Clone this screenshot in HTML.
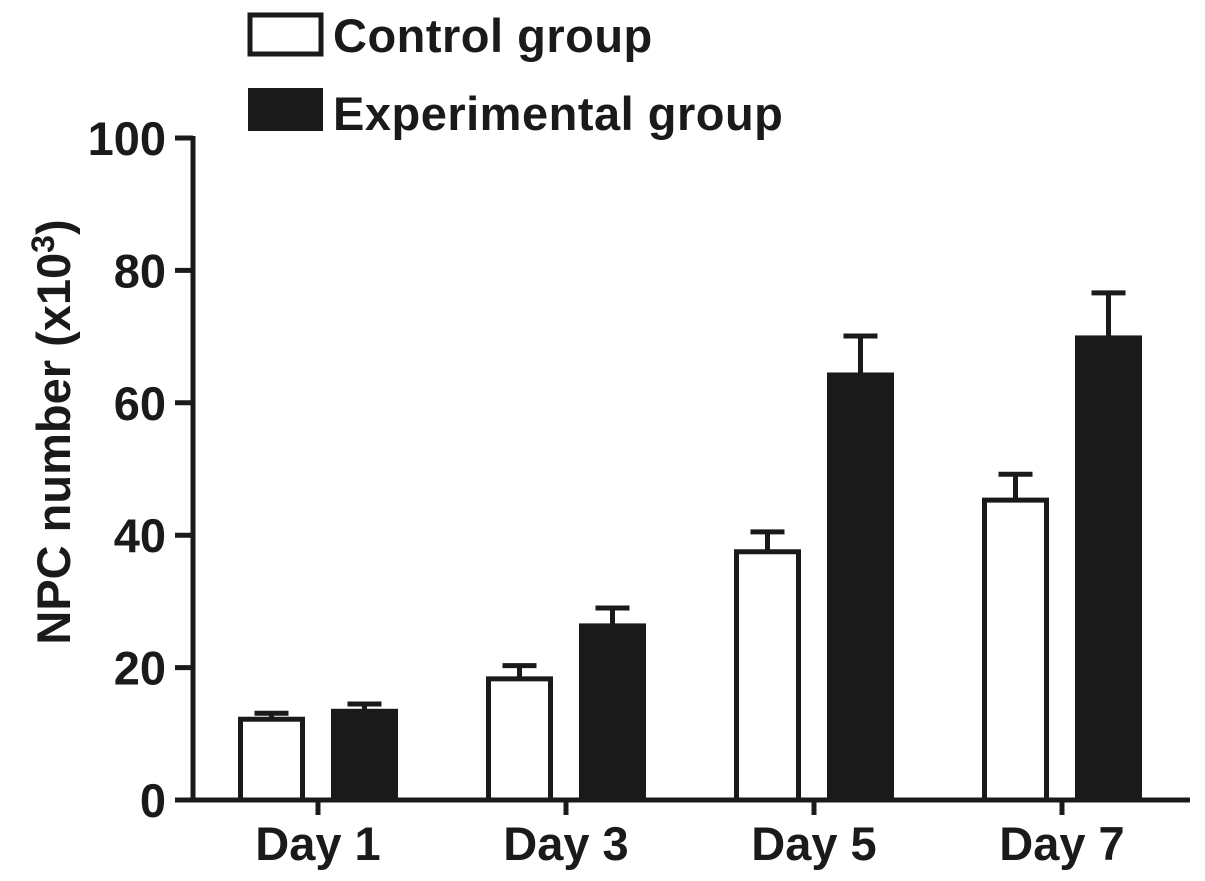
<!DOCTYPE html>
<html><head><meta charset="utf-8"><style>
html,body{margin:0;padding:0;background:#fff}
svg{display:block}
text{font-family:"Liberation Sans",Arial,sans-serif;font-weight:bold;fill:#1a1a1a}
</style></head><body>
<svg id="chart" width="1205" height="881" viewBox="0 0 1205 881" xmlns="http://www.w3.org/2000/svg">
<g id="legend">
 <rect x="250" y="15" width="71" height="39" fill="#fff" stroke="#1a1a1a" stroke-width="5"/>
 <text x="333" y="52" font-size="47" letter-spacing="0.5">Control group</text>
 <rect x="248" y="88" width="75" height="43" fill="#1a1a1a"/>
 <text x="333" y="130" font-size="47" letter-spacing="0.5">Experimental group</text>
</g>
<text transform="translate(70,432) rotate(-90)" text-anchor="middle" font-size="47">NPC number (x10<tspan dy="-16" font-size="32">3</tspan><tspan dy="16">)</tspan></text>
<g id="axes"></g>
<g id="bars"></g>
</svg>
<script>
const categories=["Day 1","Day 3","Day 5","Day 7"];
const controlValues=[12.2,18.3,37.5,45.3];
const controlErrors=[0.9,2.0,3.0,3.9];
const experimentalValues=[13.4,26.3,64.2,69.8];
const experimentalErrors=[1.1,2.7,5.9,6.8];
const yTicks=[0,20,40,60,80,100];
const NS="http://www.w3.org/2000/svg";
const y0=800,yTop=138,xL=193,xR=1190;
function y(v){return y0-(v/100)*(y0-yTop);}
function gx(i){return 318+248*i;}
function mk(tag,attrs,parent,text){const e=document.createElementNS(NS,tag);for(const k in attrs)e.setAttribute(k,attrs[k]);if(text!==undefined)e.textContent=text;parent.appendChild(e);return e;}
const axes=document.getElementById("axes"),bars=document.getElementById("bars");
const ya=mk("line",{x1:xL,y1:yTop-2,x2:xL,y2:y0+2,stroke:"#1a1a1a","stroke-width":5},axes);


const xa=mk("line",{x1:xL-2,y1:y0,x2:xR,y2:y0,stroke:"#1a1a1a","stroke-width":5},axes);


yTicks.forEach(t=>{
 const l=mk("line",{x1:175,y1:y(t),x2:xL,y2:y(t),stroke:"#1a1a1a","stroke-width":5},axes);
 
 
 const tx=mk("text",{x:166,y:y(t)+17,"text-anchor":"end","font-size":47},axes,String(t));
 
 
});
const bw=67;
function bar(cx,v,e,filled,name){
 const top=y(v),et=y(v+e);
 const el=mk("line",{x1:cx,y1:top,x2:cx,y2:et,stroke:"#1a1a1a","stroke-width":5},bars);
 
 
 const cap=mk("line",{x1:cx-17,y1:et,x2:cx+17,y2:et,stroke:"#1a1a1a","stroke-width":5},bars);
 
 
 const r=mk("rect",{x:cx-bw/2+2.5,y:top,width:bw-5,height:y0-top,fill:filled?"#1a1a1a":"#fff",stroke:"#1a1a1a","stroke-width":5},bars);
 
 
}
categories.forEach((c,i)=>{
 const cx=gx(i);
 bar(cx-46.5,controlValues[i],controlErrors[i],false,'bar-control-'+(i+1));
 bar(cx+46.5,experimentalValues[i],experimentalErrors[i],true,'bar-experimental-'+(i+1));
 const tk=mk("line",{x1:cx,y1:y0,x2:cx,y2:y0+15,stroke:"#1a1a1a","stroke-width":5},axes);
 
 
 const lb=mk("text",{x:cx,y:860,"text-anchor":"middle","font-size":47},axes,c);
 
 
});
</script>
</body></html>
